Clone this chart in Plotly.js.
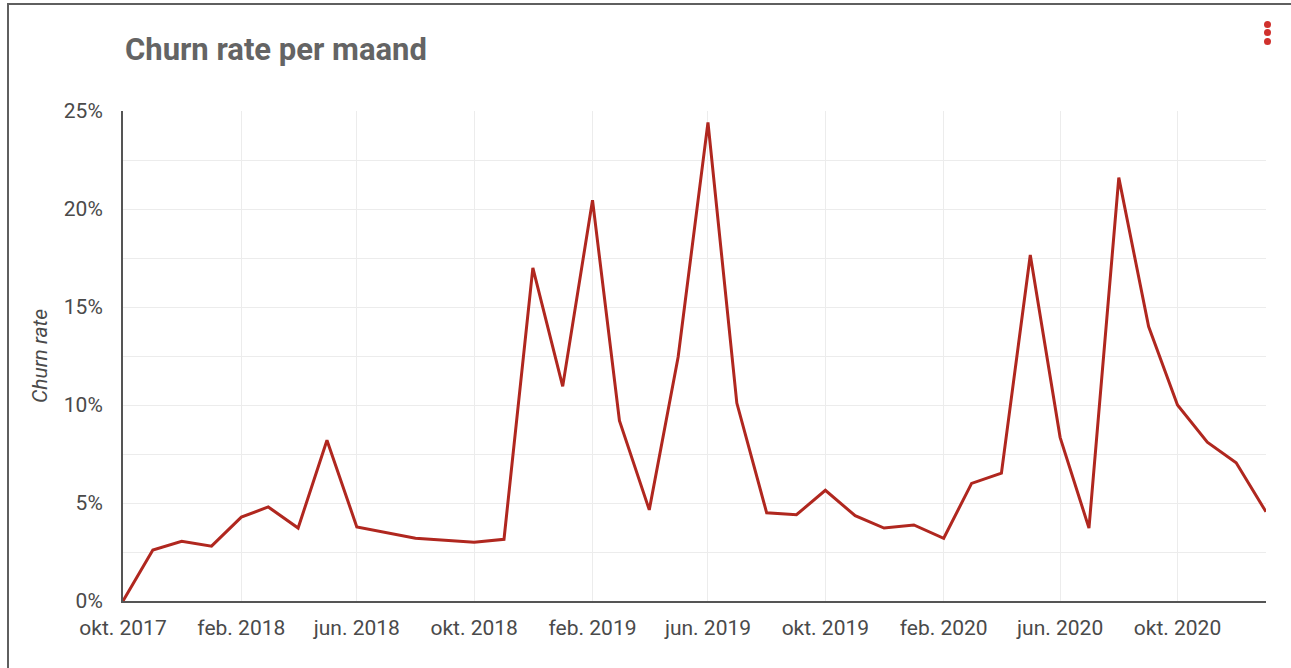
<!DOCTYPE html>
<html>
<head>
<meta charset="utf-8">
<script src="https://cdn.plot.ly/plotly-3.0.1.min.js"></script>
<style>
  html, body { margin: 0; padding: 0; background: #fff; overflow: hidden; }
  #chart { position: absolute; left: 0; top: 0; width: 1291px; height: 668px; }
  #frame { position: absolute; left: 7px; top: 3px; width: 1400px; height: 800px; border: 2px solid #5f5f5f; pointer-events: none; }
  .dot { position: absolute; left: 1264px; width: 7px; height: 7px; border-radius: 50%; background: #d0312d; }
</style>
</head>
<body>
<div id="chart"></div>
<div id="frame"></div>
<div class="dot" style="top:21px"></div>
<div class="dot" style="top:29px"></div>
<div class="dot" style="top:38px"></div>
<script>
// Months (first day of month) and churn rate in %
const months = [
  "2017-10-01","2017-11-01","2017-12-01","2018-01-01","2018-02-01","2018-03-01",
  "2018-04-01","2018-05-01","2018-06-01","2018-08-01","2018-10-01","2018-11-01",
  "2018-12-01","2019-01-01","2019-02-01","2019-03-01","2019-04-01","2019-05-01",
  "2019-06-01","2019-07-01","2019-08-01","2019-09-01","2019-10-01","2019-11-01",
  "2019-12-01","2020-01-01","2020-02-01","2020-03-01","2020-04-01","2020-05-01",
  "2020-06-01","2020-07-01","2020-08-01","2020-09-01","2020-10-01","2020-11-01",
  "2020-12-01","2021-01-01"
];
const churnRate = [
  0, 2.6, 3.05, 2.8, 4.28, 4.8,
  3.72, 8.2, 3.78, 3.2, 3.0, 3.15,
  17.0, 10.95, 20.45, 9.2, 4.65, 12.45,
  24.42, 10.1, 4.5, 4.4, 5.65, 4.35,
  3.72, 3.88, 3.2, 6.0, 6.52, 17.65,
  8.35, 3.72, 21.6, 14.0, 10.0, 8.1,
  7.05, 4.55
];
const xTickVals = ["2017-10-01","2018-02-01","2018-06-01","2018-10-01","2019-02-01",
  "2019-06-01","2019-10-01","2020-02-01","2020-06-01","2020-10-01"];
const xTickText = ["okt. 2017","feb. 2018","jun. 2018","okt. 2018","feb. 2019",
  "jun. 2019","okt. 2019","feb. 2020","jun. 2020","okt. 2020"];
const yTickVals = [0, 5, 10, 15, 20, 25];
const yTickText = ["0%","5%","10%","15%","20%","25%"];

const trace = {
  x: months,
  y: churnRate,
  type: "scatter",
  mode: "lines",
  line: { color: "#b0271f", width: 3 },
  hoverinfo: "x+y"
};

const layout = {
  width: 1291,
  height: 668,
  margin: { l: 123, r: 25, t: 111, b: 67 },
  paper_bgcolor: "rgba(0,0,0,0)",
  plot_bgcolor: "#ffffff",
  font: { family: "Roboto, sans-serif", color: "#4a4a4a" },
  showlegend: false,
  title: {
    text: "<b>Churn rate per maand</b>",
    font: { family: "Roboto, sans-serif", size: 31, color: "#646464" },
    xref: "container", yref: "container",
    x: 125 / 1291, xanchor: "left",
    y: 1 - 49 / 668, yanchor: "middle"
  },
  xaxis: {
    type: "date",
    range: ["2017-10-01", "2021-01-01"],
    tickmode: "array",
    tickvals: xTickVals,
    ticktext: xTickText,
    tickfont: { size: 21, color: "#4a4a4a" },
    ticklabelstandoff: 7,
    showgrid: true,
    gridcolor: "#ececec",
    gridwidth: 1,
    showline: true,
    linecolor: "#555",
    linewidth: 2,
    ticks: "",
    zeroline: false,
    fixedrange: true
  },
  yaxis: {
    range: [0, 25],
    tickmode: "array",
    tickvals: yTickVals,
    ticktext: yTickText,
    tickfont: { size: 21, color: "#4a4a4a" },
    ticklabelstandoff: 14,
    showgrid: true,
    gridcolor: "#ececec",
    gridwidth: 1,
    minor: { dtick: 2.5, tick0: 0, showgrid: true, gridcolor: "#ececec", gridwidth: 1 },
    showline: true,
    linecolor: "#555",
    linewidth: 2,
    ticks: "",
    zeroline: false,
    fixedrange: true,
    title: {
      text: "<i>Churn rate</i>",
      font: { size: 21, color: "#4a4a4a" },
      standoff: 10
    }
  }
};

Plotly.newPlot("chart", [trace], layout, { displayModeBar: false });
</script>
</body>
</html>
